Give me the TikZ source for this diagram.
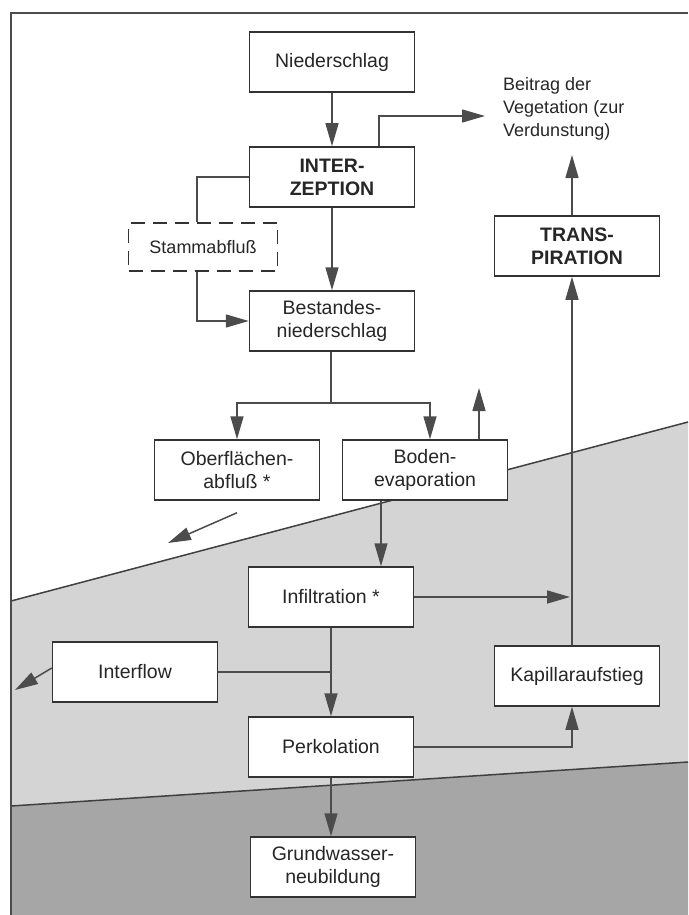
\documentclass[tikz,border=0pt]{standalone}
\usepackage{fontspec}
\setmainfont{Liberation Sans}
\usetikzlibrary{arrows.meta}
\begin{document}
\begin{tikzpicture}[x=1pt,y=-1pt,
        proc/.style={draw=black!80,rectangle,line width=1.5pt,fill=white,minimum width=165pt,minimum height=60pt,inner sep=2pt,align=center,text=black!85,font=\fontsize{19.5}{23}\selectfont},
        procb/.style={proc,font=\fontsize{19.5}{23}\selectfont\bfseries},
        procd/.style={proc,dash pattern=on 14pt off 8pt,minimum width=149pt,minimum height=48pt,font=\fontsize{18}{22}\selectfont},
        flow/.style={draw=black!70,line width=1.5pt,-{Triangle[length=23pt,width=13pt]}},
        link/.style={draw=black!70,line width=1.5pt},
        soil/.style={fill=black!17},
        ground/.style={fill=black!35},
        horizon/.style={draw=black!75,line width=1.5pt}
      ]
      \useasboundingbox (0,0) rectangle (688,915);
      % soil layers
      \fill[soil] (11,601) -- (688,422) -- (688,762) -- (11,806) -- cycle;
      \fill[ground] (11,806) -- (688,762) -- (688,915) -- (11,915) -- cycle;
      \draw[horizon] (11,601) -- (688,422);
      \draw[horizon] (11,806) -- (688,762);
      \draw[black!70,line width=1.2pt] (11,915) -- (11,13) -- (688,13);
      % boxes
      \node[proc] (nied) at (332,62) {Niederschlag};
      \node[procb] (inter) at (332,177) {INTER-\\ZEPTION};
      \node[procd] (stamm) at (203,247) {Stammabfluß};
      \node[proc] (bestand) at (332,321) {Bestandes-\\niederschlag};
      \node[proc] (oberfl) at (237,470) {Oberflächen-\\abfluß *};
      \node[proc] (boden) at (425,470) {Boden-\\evaporation};
      \node[proc] (infil) at (331,597) {Infiltration *};
      \node[proc] (interflow) at (135,672) {Interflow};
      \node[proc] (kapillar) at (577,676) {Kapillaraufstieg};
      \node[proc] (perk) at (331,747) {Perkolation};
      \node[proc] (grund) at (333,867) {Grundwasser-\\neubildung};
      \node[procb] (trans) at (577,246) {TRANS-\\PIRATION};
      \node[anchor=west,align=left,inner sep=0pt,text=black!85,font=\fontsize{18}{23}\selectfont] (beitrag) at (503,109) {Beitrag der\\Vegetation (zur\\Verdunstung)};
      % free ends
      \coordinate (vegtip) at (485,116);
      \coordinate (transtip) at (572,155);
      \coordinate (split) at (331,403);
      \coordinate (bodentip) at (479,388);
      \coordinate (runofftip) at (168,543);
      \coordinate (risetip) at (570,597);
      \coordinate (interflowtip) at (15,690);
      % connectors
      \draw[flow] (nied) -- (inter);
      \draw[flow] ([xshift=47pt]inter.north) |- (vegtip);
      \draw[flow] ([xshift=-5pt]trans.north) -- (transtip);
      \draw[link] (inter.west) -| ([xshift=-6pt]stamm.north);
      \draw[flow] ([xshift=-6pt]stamm.south) |- (bestand.west);
      \draw[flow] (inter) -- (bestand);
      \draw[link] (bestand.south -| split) -- (split);
      \draw[flow] (split) -| (oberfl.north);
      \draw[flow] (split) -| ([xshift=5pt]boden.north);
      \draw[flow] ([xshift=54pt]boden.north) -- (bodentip);
      \draw[flow] ([yshift=-12pt]oberfl.south) -- (runofftip);
      \draw[flow] ([xshift=-44pt]boden.south) -- ([xshift=-44pt]boden.south |- infil.north);
      \draw[flow] (infil.east) -- (risetip);
      \draw[flow] ([xshift=-5pt]kapillar.north) -- ([xshift=-5pt]trans.south);
      \draw[flow] ([yshift=4pt]interflow.west) -- (interflowtip);
      \draw[link] (interflow.east) -- (interflow.east -| infil.south);
      \draw[flow] (infil) -- (perk);
      \draw[flow] (perk.east) -| ([xshift=-5pt]kapillar.south);
      \draw[flow] (perk.south) -- (perk.south |- grund.north);
    \end{tikzpicture}
\end{document}
